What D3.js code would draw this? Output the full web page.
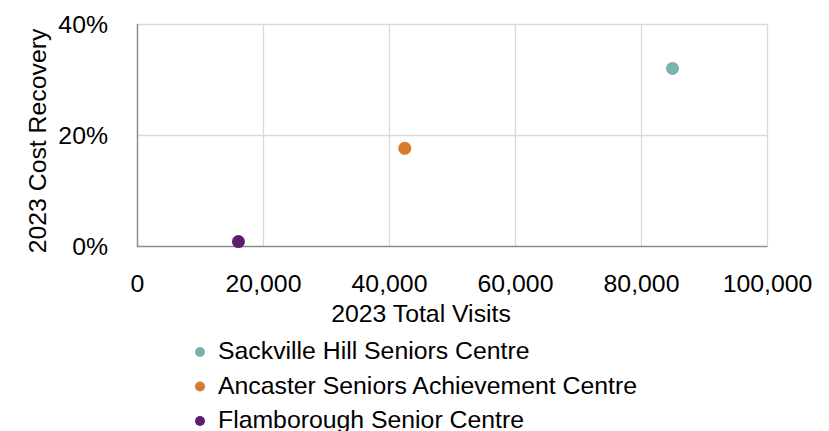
<!DOCTYPE html>
<html>
<head>
<meta charset="utf-8">
<script src="https://cdn.jsdelivr.net/npm/d3@7/dist/d3.min.js"></script>
<style>
  html, body { margin: 0; padding: 0; background: #fff; }
  svg { display: block; font-family: "Liberation Sans", Arial, sans-serif; }
</style>
</head>
<body>
<svg id="chart" width="829" height="431"></svg>
<script>
// Senior centres: 2023 visits vs. cost recovery
const centres = ["Sackville Hill Seniors Centre", "Ancaster Seniors Achievement Centre", "Flamborough Senior Centre"];
const totalVisits = [85000, 42500, 16100];
const costRecovery = [0.32, 0.176, 0.008];
const centreColors = ["#7AB2AD", "#D77A2E", "#5F1C6C"];
const xTicks = [0, 20000, 40000, 60000, 80000, 100000];
const yTicks = [0, 0.2, 0.4];

const FONT = 24.8;
const svg = d3.select("#chart");
const plot = { left: 137, right: 767, top: 24, bottom: 246 };

const x = d3.scaleLinear().domain([0, 100000]).range([plot.left, plot.right]);
const y = d3.scaleLinear().domain([0, 0.4]).range([plot.bottom, plot.top]);

// gridlines
const grid = svg.append("g");
grid.selectAll("line.vx").data(xTicks.slice(1)).join("line")
  .attr("x1", d => Math.round(x(d)) + 0.5).attr("x2", d => Math.round(x(d)) + 0.5)
  .attr("y1", plot.top).attr("y2", plot.bottom)
  .attr("stroke", "#D9D9D9").attr("stroke-width", 1.3);
grid.selectAll("line.hy").data(yTicks.slice(1)).join("line")
  .attr("x1", plot.left).attr("x2", plot.right + 0.6)
  .attr("y1", d => Math.round(y(d)) + 0.5).attr("y2", d => Math.round(y(d)) + 0.5)
  .attr("stroke", "#D9D9D9").attr("stroke-width", 1.3);

// x axis
const xAxis = d3.axisBottom(x).tickValues(xTicks).tickSize(0).tickPadding(0)
  .tickFormat(d3.format(","));
const gx = svg.append("g").attr("transform", `translate(0,${plot.bottom})`).call(xAxis);
gx.select(".domain").remove();
gx.selectAll("text").attr("dy", null).attr("y", 45.5)
  .attr("font-size", FONT).attr("font-family", "Liberation Sans, Arial, sans-serif").attr("fill", "#000");

// y axis
const yAxis = d3.axisLeft(y).tickValues(yTicks).tickSize(0).tickPadding(0)
  .tickFormat(d3.format(".0%"));
const gy = svg.append("g").attr("transform", `translate(${plot.left},0)`).call(yAxis);
gy.select(".domain").remove();
gy.selectAll("text").attr("x", -29).attr("dy", "0.35em")
  .attr("font-size", FONT).attr("font-family", "Liberation Sans, Arial, sans-serif").attr("fill", "#000");

// axis lines
svg.append("line")
  .attr("x1", plot.left + 0.5).attr("x2", plot.left + 0.5)
  .attr("y1", plot.top).attr("y2", plot.bottom + 1)
  .attr("stroke", "#8C8C8C").attr("stroke-width", 1.5);
svg.append("line")
  .attr("x1", plot.left).attr("x2", plot.right + 0.6)
  .attr("y1", plot.bottom + 0.5).attr("y2", plot.bottom + 0.5)
  .attr("stroke", "#8C8C8C").attr("stroke-width", 1.5);

// axis titles
svg.append("text")
  .attr("x", 421).attr("y", 321.5).attr("text-anchor", "middle")
  .attr("font-size", FONT).text("2023 Total Visits");
svg.append("text")
  .attr("transform", "translate(46,141) rotate(-90)").attr("text-anchor", "middle")
  .attr("font-size", FONT).text("2023 Cost Recovery");

// points
svg.append("g").selectAll("circle").data(centres).join("circle")
  .attr("cx", (d, i) => x(totalVisits[i]))
  .attr("cy", (d, i) => y(costRecovery[i]))
  .attr("r", 6.5)
  .attr("fill", (d, i) => centreColors[i]);

// legend
const legend = svg.append("g").selectAll("g").data(centres).join("g")
  .attr("transform", (d, i) => `translate(200,${352 + i * 34.5})`);
legend.append("circle").attr("r", 5).attr("fill", (d, i) => centreColors[i]);
legend.append("text").attr("x", 18).attr("y", 7)
  .attr("font-size", FONT).text(d => d);
</script>
</body>
</html>
